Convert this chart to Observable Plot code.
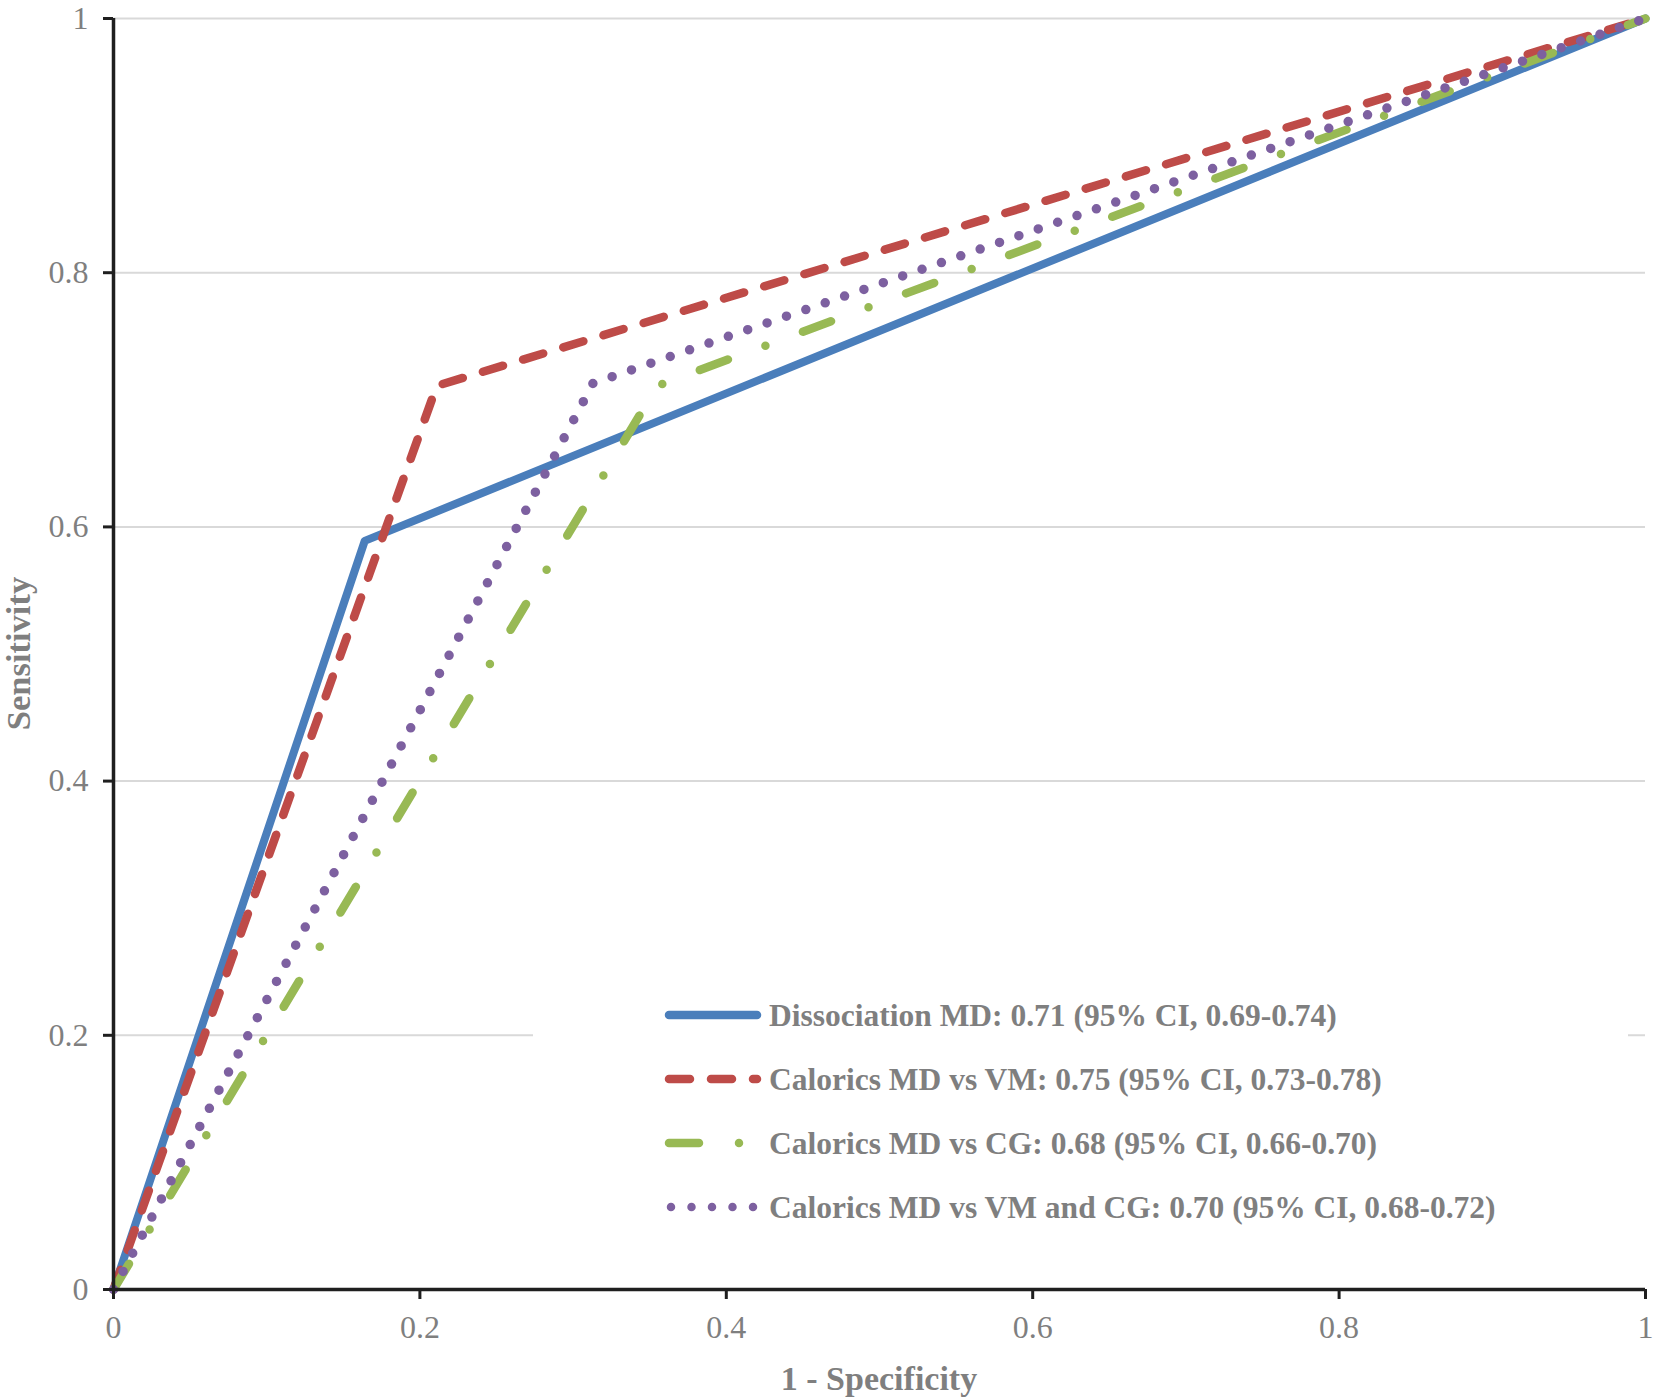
<!DOCTYPE html>
<html>
<head>
<meta charset="utf-8">
<script src="https://cdn.jsdelivr.net/npm/d3@7"></script>
<script src="https://cdn.jsdelivr.net/npm/@observablehq/plot@0.6"></script>
<style>
  html, body { margin: 0; padding: 0; background: #fff; }
  #chart svg { display: block; }
</style>
</head>
<body>
<div id="chart"></div>
<script>
// ---- data ----
const xTicks = [0, 0.2, 0.4, 0.6, 0.8, 1];
const yTicks = [0, 0.2, 0.4, 0.6, 0.8, 1];
const xTitle = "1 - Specificity";
const yTitle = "Sensitivity";

const seriesNames = [
  "Dissociation MD: 0.71 (95% CI, 0.69-0.74)",
  "Calorics MD vs VM: 0.75 (95% CI, 0.73-0.78)",
  "Calorics MD vs CG: 0.68 (95% CI, 0.66-0.70)",
  "Calorics MD vs VM and CG: 0.70 (95% CI, 0.68-0.72)"
];
const fprDissociation = [0, 0.164, 1];
const tprDissociation = [0, 0.589, 1];
const fprCaloricsVM = [0, 0.211, 1];
const tprCaloricsVM = [0, 0.711, 1];
const fprCaloricsCG = [0, 0.355, 1];
const tprCaloricsCG = [0, 0.711, 1];
const fprCaloricsVMCG = [0, 0.313, 1];
const tprCaloricsVMCG = [0, 0.713, 1];

// ---- styles ----
const seriesColors = ["#4a7ebb", "#be4b48", "#98b954", "#7d60a0"];
const seriesWidths = [8, 8.5, 8.5, 9.5];
const seriesDash = [null, "21,21", "30,40,0,40", "0,20.5"];
const fprs = [fprDissociation, fprCaloricsVM, fprCaloricsCG, fprCaloricsVMCG];
const tprs = [tprDissociation, tprCaloricsVM, tprCaloricsCG, tprCaloricsVMCG];

const W = 1654, H = 1400;
const mL = 113, mR = 9, mT = 18, mB = 111;
const textGray = "#7f7f7f";
const axisColor = "#1f1f1f";
const fmt = d => String(+d.toFixed(1));

const lineMarks = seriesNames.map((name, i) => {
  const rows = fprs[i].map((x, j) => ({x, y: tprs[i][j], name}));
  return Plot.line(rows, {
    x: "x", y: "y",
    stroke: seriesColors[i],
    strokeWidth: seriesWidths[i],
    strokeDasharray: seriesDash[i] || undefined,
    strokeLinecap: "round",
    strokeLinejoin: "round"
  });
});

const svg = Plot.plot({
  width: W, height: H,
  marginLeft: mL, marginRight: mR, marginTop: mT, marginBottom: mB,
  style: {fontFamily: "'Liberation Serif', 'Times New Roman', serif", background: "#fff"},
  x: {domain: [0, 1]},
  y: {domain: [0, 1]},
  marks: [
    Plot.gridY(yTicks.filter(d => d > 0), {stroke: "#d9d9d9", strokeOpacity: 1, strokeWidth: 2}),
    ...lineMarks,
    Plot.ruleX([0], {stroke: axisColor, strokeWidth: 3.5}),
    Plot.ruleY([0], {stroke: axisColor, strokeWidth: 3.5}),
    Plot.axisX(xTicks, {tickSize: 10, tickPadding: 16, fontSize: 32, stroke: axisColor, strokeWidth: 3, fill: textGray, tickFormat: fmt, label: null}),
    Plot.axisY(yTicks, {tickSize: 10, tickPadding: 15, fontSize: 32, stroke: axisColor, strokeWidth: 3, fill: textGray, tickFormat: fmt, label: null})
  ]
});

const s = d3.select(svg);
// axis titles
s.append("text")
  .attr("x", (mL + W - mR) / 2).attr("y", 1390)
  .attr("text-anchor", "middle")
  .attr("font-size", 34).attr("font-weight", "bold")
  .attr("fill", textGray).text(xTitle);
s.append("text")
  .attr("transform", `translate(30,${(mT + H - mB) / 2}) rotate(-90)`)
  .attr("text-anchor", "middle")
  .attr("font-size", 34.5).attr("font-weight", "bold")
  .attr("fill", textGray).text(yTitle);

// legend
const lg = s.append("g");
lg.append("rect").attr("x", 533).attr("y", 982).attr("width", 1095).attr("height", 260).attr("fill", "#fff");
const rowY = [1015, 1079, 1143, 1207];
seriesNames.forEach((name, i) => {
  const x1 = i === 3 ? 671 : 669;
  const x2 = i === 3 ? 755 : 757;
  lg.append("line")
    .attr("x1", x1).attr("x2", x2).attr("y1", rowY[i]).attr("y2", rowY[i])
    .attr("stroke", seriesColors[i]).attr("stroke-width", 8.5)
    .attr("stroke-linecap", "round")
    .attr("stroke-dasharray", seriesDash[i]);
  lg.append("text")
    .attr("x", 769).attr("y", rowY[i]).attr("dy", "0.35em")
    .attr("text-anchor", "start")
    .attr("font-size", 31.5).attr("font-weight", "bold")
    .attr("fill", textGray).text(name);
});

document.getElementById("chart").appendChild(svg);
</script>
</body>
</html>
